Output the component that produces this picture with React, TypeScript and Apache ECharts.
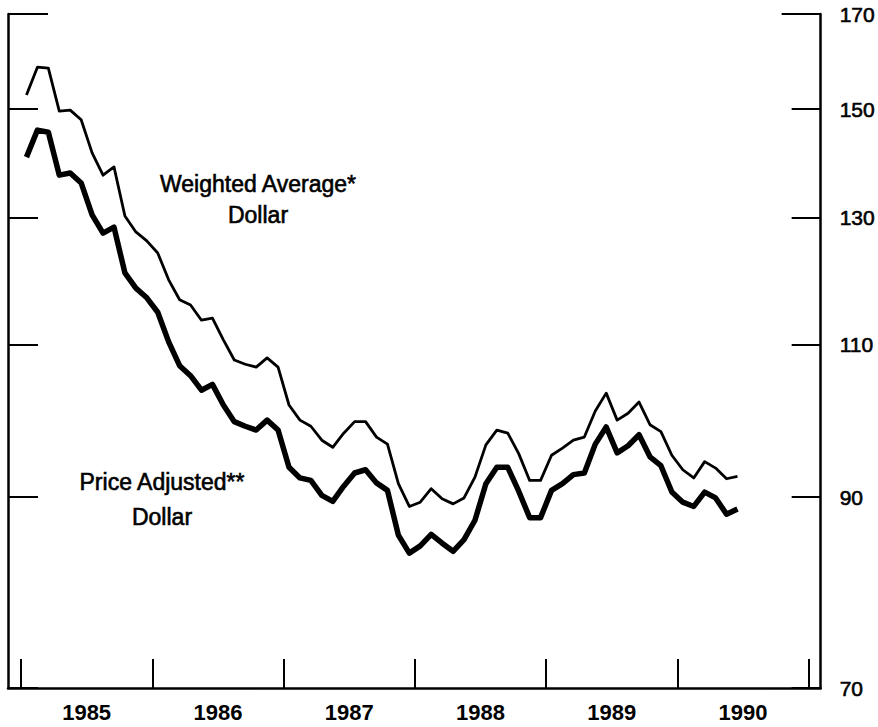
import React, { useEffect, useRef } from "react";
import * as echarts from "echarts";

// Monthly index values, Jan 1985 – Jun 1990
const startYear = 1985;
const weightedAverage = [
  152.8, 158.5, 158.3, 149.6, 149.8, 147.9, 141.6, 137.5, 139.0, 130.3, 127.6, 126.1,
  124.1, 119.8, 116.7, 115.9, 113.6, 113.9, 110.7, 107.8, 107.2, 106.8, 108.1, 106.8,
  101.6, 99.6, 98.8, 97.0, 96.1, 97.9, 99.4, 99.4, 97.4, 96.5, 91.6, 88.9,
  89.4, 91.0, 89.8, 89.2, 89.9, 92.4, 96.4, 98.3, 97.9, 95.3, 92.0, 92.0,
  95.1, 96.0, 97.0, 97.4, 100.8, 103.2, 99.6, 100.5, 102.0, 99.0, 98.1, 95.1,
  93.3, 92.3, 94.3, 93.5, 92.2, 92.5,
];
const priceAdjusted = [
  140.8, 145.9, 145.5, 137.5, 137.9, 136.1, 130.5, 127.4, 128.4, 120.9, 118.5, 117.0,
  114.8, 110.4, 107.0, 105.6, 103.6, 104.4, 101.6, 99.4, 98.8, 98.3, 99.6, 98.3,
  93.6, 92.3, 92.0, 90.2, 89.5, 91.3, 92.9, 93.3, 91.7, 90.8, 85.6, 83.6,
  84.4, 85.7, 84.7, 83.8, 85.1, 87.3, 91.6, 93.6, 93.6, 90.7, 87.6, 87.6,
  90.8, 91.6, 92.7, 92.9, 96.5, 98.7, 95.4, 96.3, 97.7, 94.9, 93.8, 90.6,
  89.4, 88.9, 90.6, 89.9, 88.0, 88.6,
];
const yearTicks = [1985, 1986, 1987, 1988, 1989, 1990, 1991];
const yearLabelPositions = [1985.5, 1986.5, 1987.5, 1988.5, 1989.5, 1990.5];
const valueTicks = [70, 90, 110, 130, 150, 170];
const lowerValueTicks = [70, 90, 110, 130, 150];
const topTick = [170];

const FONT = '"Liberation Sans", Arial, Helvetica, sans-serif';

// mid-month positions in decimal years
const toSeries = (vals: number[]) =>
  vals.map((v, i) => [startYear + (i + 0.5) / 12, v]);

const labelStyle = (text: string) => ({
  text,
  fill: "#000",
  stroke: "#000",
  lineWidth: 0.6,
  font: `23px ${FONT}`,
  textAlign: "center",
  textVerticalAlign: "middle",
});

export default function App() {
  const ref = useRef<HTMLDivElement>(null);
  useEffect(() => {
    if (!ref.current) return;
    const chart = echarts.init(ref.current, null, { renderer: "svg" });
    const axisLine = { show: true, lineStyle: { color: "#000", width: 2.5 } };
    const baseY = {
      type: "log",
      logBase: 10,
      min: 70,
      max: 170,
      splitLine: { show: false },
      axisLine: axisLine,
    };
    chart.setOption({
      animation: false,
      backgroundColor: "#fff",
      grid: { left: 8, right: 57, top: 14, bottom: 39, containLabel: false },
      xAxis: {
        type: "value",
        min: 1984.901,
        max: 1991.092,
        splitLine: { show: false },
        axisLine: { show: true, onZero: false, lineStyle: { color: "#000", width: 2.5 } },
        axisTick: {
          show: true,
          inside: true,
          length: 29,
          customValues: yearTicks,
          lineStyle: { color: "#000", width: 2 },
        },
        axisLabel: {
          customValues: yearLabelPositions,
          formatter: (v: number) => String(Math.floor(v)),
          fontSize: 22,
          fontWeight: "bold",
          fontFamily: FONT,
          color: "#000",
          margin: 13,
        },
      },
      yAxis: [
        {
          ...baseY,
          position: "right",
          axisTick: {
            show: true,
            inside: true,
            length: 29,
            customValues: lowerValueTicks,
            lineStyle: { color: "#000", width: 2 },
          },
          axisLabel: {
            customValues: valueTicks,
            fontSize: 21,
            fontFamily: FONT,
            color: "#000",
            textBorderColor: "#000",
            textBorderWidth: 0.6,
            margin: 19,
          },
        },
        {
          ...baseY,
          position: "left",
          axisTick: {
            show: true,
            inside: true,
            length: 30,
            customValues: lowerValueTicks,
            lineStyle: { color: "#000", width: 2 },
          },
          axisLabel: { show: false },
        },
        {
          ...baseY,
          position: "right",
          axisLine: { show: false },
          axisTick: {
            show: true,
            inside: true,
            length: 39,
            customValues: topTick,
            lineStyle: { color: "#000", width: 2 },
          },
          axisLabel: { show: false },
        },
        {
          ...baseY,
          position: "left",
          axisLine: { show: false },
          axisTick: {
            show: true,
            inside: true,
            length: 40,
            customValues: topTick,
            lineStyle: { color: "#000", width: 2 },
          },
          axisLabel: { show: false },
        },
      ],
      graphic: [
        { type: "text", x: 258, y: 184, style: labelStyle("Weighted Average*") },
        { type: "text", x: 258, y: 215, style: labelStyle("Dollar") },
        { type: "text", x: 162, y: 482, style: labelStyle("Price Adjusted**") },
        { type: "text", x: 162, y: 517, style: labelStyle("Dollar") },
      ],
      series: [
        {
          name: "Weighted Average Dollar",
          type: "line",
          yAxisIndex: 0,
          data: toSeries(weightedAverage),
          showSymbol: false,
          lineStyle: { color: "#000", width: 2.8, join: "round" },
        },
        {
          name: "Price Adjusted Dollar",
          type: "line",
          yAxisIndex: 0,
          data: toSeries(priceAdjusted),
          showSymbol: false,
          lineStyle: { color: "#000", width: 5.5, join: "round" },
        },
      ],
    });
    return () => chart.dispose();
  }, []);
  return (
    <div
      ref={ref}
      style={{ position: "fixed", left: 0, top: 0, width: 878, height: 727 }}
    />
  );
}
